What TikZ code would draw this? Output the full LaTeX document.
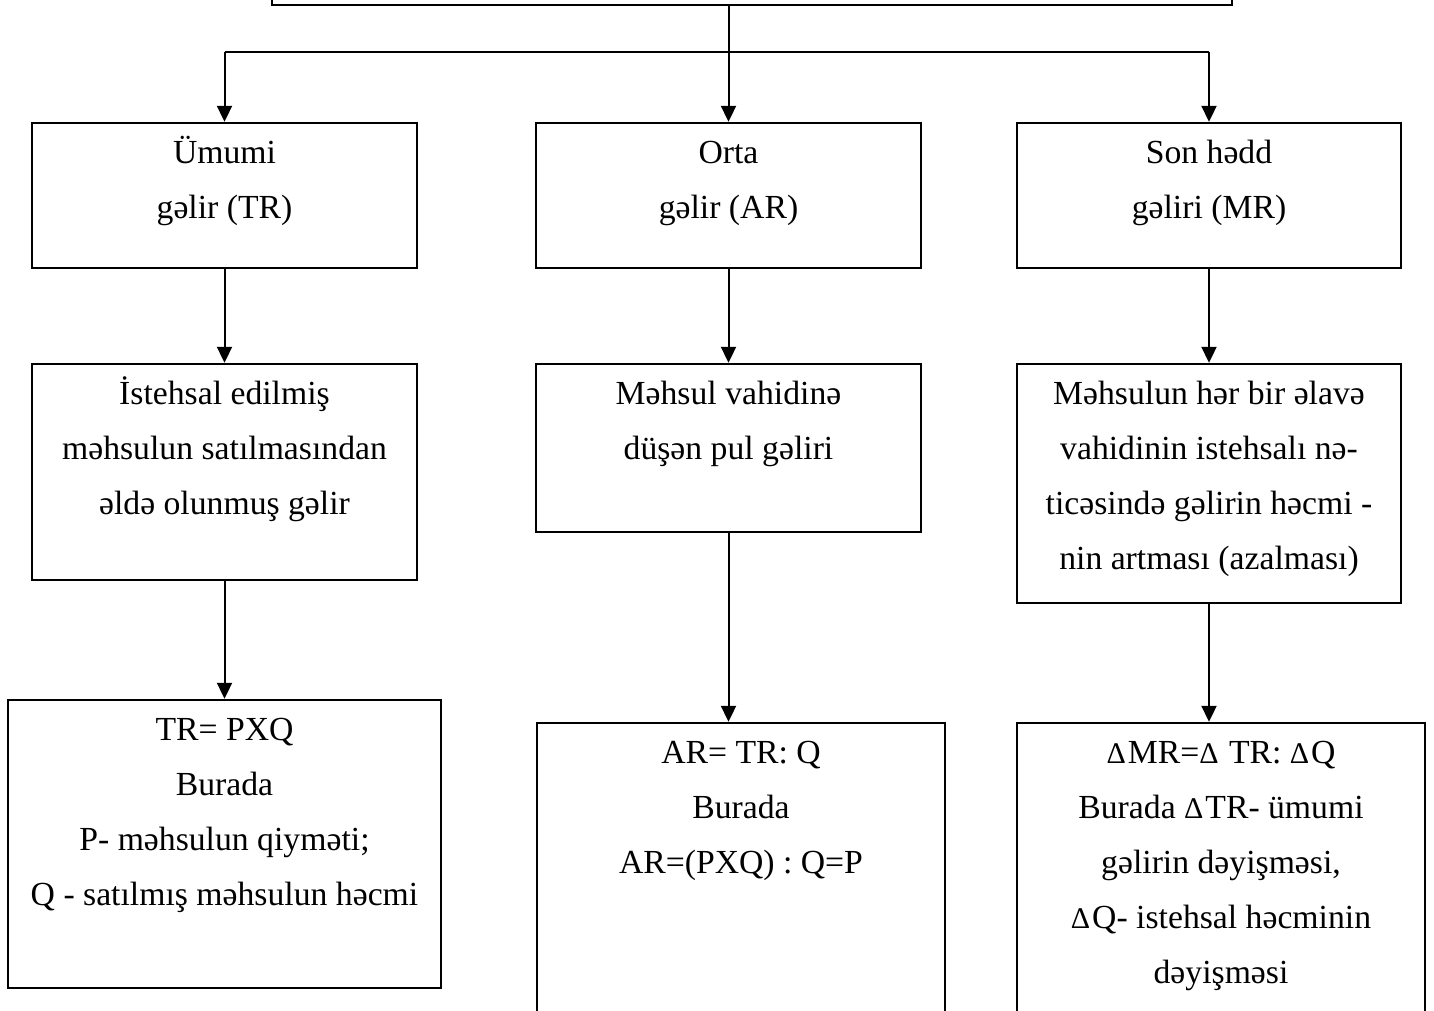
\documentclass[tikz,border=0pt]{standalone}
\usepackage{fontspec}
\setmainfont{Liberation Serif}
\usetikzlibrary{arrows.meta}
\newcommand{\dl}{{\fontsize{30}{30}\selectfont Δ}\kern2pt}
\tikzset{
  box/.style={draw, line width=2.4pt, rectangle, inner sep=0pt},
  txt/.style={anchor=north, inner sep=0pt, align=center,
    font=\fontsize{33.7}{55}\selectfont},
  conn/.style={line width=2pt},
  arr/.style={line width=2pt, -{Triangle[width=15pt,length=16pt]}}
}
\begin{document}
\begin{tikzpicture}[x=1pt,y=-1pt]
\useasboundingbox (0,0) rectangle (1434,1010);
\clip (0,0) rectangle (1434,1010);
% top box
\node[box, minimum width=960pt, minimum height=40pt] (top) at (752,-15) {};
% row 1
\node[box, minimum width=385pt, minimum height=145pt] (l1) at (224.5,195.5) {};
\node[box, minimum width=385pt, minimum height=145pt] (m1) at (728.5,195.5) {};
\node[box, minimum width=384pt, minimum height=145pt] (r1) at (1209,195.5) {};
% row 2
\node[box, minimum width=385pt, minimum height=216pt] (l2) at (224.5,472) {};
\node[box, minimum width=385pt, minimum height=168pt] (m2) at (728.5,448) {};
\node[box, minimum width=384pt, minimum height=239pt] (r2) at (1209,483.5) {};
% row 3
\node[box, minimum width=433pt, minimum height=288pt] (l3) at (224.5,844) {};
\node[box, minimum width=408pt, minimum height=317pt] (m3) at (741,881.5) {};
\node[box, minimum width=408pt, minimum height=317pt] (r3) at (1221,881.5) {};
% texts
\node[txt] (tl1) at ([yshift=-2.5pt]l1.north) {\strut Ümumi\\gəlir (TR)};
\node[txt] (tm1) at ([yshift=-2.5pt]m1.north) {\strut Orta\\gəlir (AR)};
\node[txt] (tr1) at ([yshift=-2.5pt]r1.north) {\strut Son hədd\\gəliri (MR)};
\node[txt] (tl2) at ([yshift=-2.5pt]l2.north) {\strut İstehsal edilmiş\\məhsulun satılmasından\\əldə olunmuş gəlir};
\node[txt] (tm2) at ([yshift=-2.5pt]m2.north) {\strut Məhsul vahidinə\\düşən pul gəliri};
\node[txt] (tr2) at ([yshift=-2.5pt]r2.north) {\strut Məhsulun hər bir əlavə\\vahidinin istehsalı nə-\\ticəsində gəlirin həcmi -\\nin artması (azalması)};
\node[txt] (tl3) at ([yshift=-2.5pt]l3.north) {\strut TR= PXQ\\Burada\\P- məhsulun qiyməti;\\Q - satılmış məhsulun həcmi};
\node[txt] (tm3) at ([yshift=-2.5pt]m3.north) {\strut AR= TR: Q\\Burada\\AR=(PXQ) : Q=P};
\node[txt] (tr3) at ([yshift=-2.5pt]r3.north) {\strut \dl MR=\dl{} TR: \dl Q\\Burada \dl TR- ümumi\\gəlirin dəyişməsi,\\\dl Q- istehsal həcminin\\dəyişməsi};
% connectors
\coordinate (bus) at (729,52);
\draw[arr] (top.south -| m1.north) -- (m1.north);
\draw[conn] (bus -| l1.north) -- (bus -| r1.north);
\draw[arr] (bus -| l1.north) -- (l1.north);
\draw[arr] (bus -| r1.north) -- (r1.north);
\draw[arr] (l1.south) -- (l2.north);
\draw[arr] (m1.south) -- (m2.north);
\draw[arr] (r1.south) -- (r2.north);
\draw[arr] (l2.south) -- (l3.north);
\draw[arr] (m2.south) -- (m2.south |- m3.north);
\draw[arr] (r2.south) -- (r2.south |- r3.north);
\end{tikzpicture}
\end{document}
